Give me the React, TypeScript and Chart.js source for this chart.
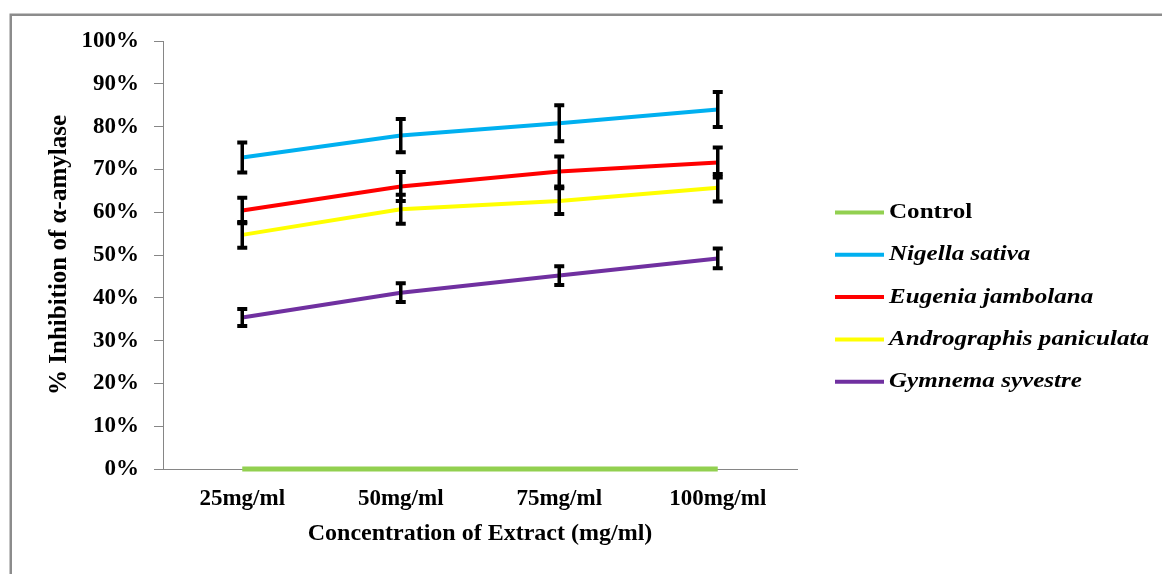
import { useEffect, useRef } from 'react';
import { Chart, registerables } from 'chart.js';

Chart.register(...registerables);

const categories = ['25mg/ml', '50mg/ml', '75mg/ml', '100mg/ml'];
const yTickValues = [0, 10, 20, 30, 40, 50, 60, 70, 80, 90, 100];

const seriesNames = ['Control', 'Nigella sativa', 'Eugenia jambolana', 'Andrographis paniculata', 'Gymnema syvestre'];
const seriesColors = ['#92D050', '#00B0F0', '#FF0000', '#FFFF00', '#7030A0'];
const seriesWidths = [5, 4, 4, 4, 4];

const control = [0, 0, 0, 0];
const nigella = [72.8, 77.9, 80.8, 84.0];
const nigellaErr = [3.5, 3.9, 4.2, 4.1];
const eugenia = [60.4, 66.0, 69.5, 71.6];
const eugeniaErr = [3.0, 3.4, 3.5, 3.5];
const andrographis = [54.7, 60.7, 62.6, 65.7];
const andrographisErr = [3.0, 3.4, 3.0, 3.2];
const gymnema = [35.4, 41.2, 45.2, 49.2];
const gymnemaErr = [2.0, 2.2, 2.2, 2.3];

const seriesValues = [control, nigella, eugenia, andrographis, gymnema];
const seriesErrors = [null, nigellaErr, eugeniaErr, andrographisErr, gymnemaErr];

const FONT = "'Liberation Serif', 'Times New Roman', serif";
const AXIS_GRAY = '#868686';

const framePlugin = {
  id: 'frame',
  beforeDraw(chart: any) {
    const ctx = chart.ctx;
    ctx.save();
    ctx.fillStyle = '#ffffff';
    ctx.fillRect(0, 0, chart.width, chart.height);
    ctx.strokeStyle = '#8c8c8c';
    ctx.lineWidth = 2.5;
    ctx.beginPath();
    ctx.moveTo(10.75, chart.height + 5);
    ctx.lineTo(10.75, 14.75);
    ctx.lineTo(chart.width + 5, 14.75);
    ctx.stroke();
    ctx.restore();
  },
};

const errorBarPlugin = {
  id: 'errorBars',
  afterDatasetsDraw(chart: any) {
    const ctx = chart.ctx;
    const xs = chart.scales.x;
    const ys = chart.scales.y;
    ctx.save();
    ctx.strokeStyle = '#000000';
    chart.data.datasets.forEach((ds: any) => {
      const errs = ds.errors;
      if (!errs) return;
      ds.data.forEach((v: number, i: number) => {
        const x = xs.getPixelForValue(i);
        const yTop = ys.getPixelForValue(v + errs[i]);
        const yBot = ys.getPixelForValue(v - errs[i]);
        ctx.lineWidth = 3.5;
        ctx.beginPath();
        ctx.moveTo(x, yTop);
        ctx.lineTo(x, yBot);
        ctx.stroke();
        ctx.lineWidth = 4;
        ctx.beginPath();
        ctx.moveTo(x - 5, yTop);
        ctx.lineTo(x + 5, yTop);
        ctx.moveTo(x - 5, yBot);
        ctx.lineTo(x + 5, yBot);
        ctx.stroke();
      });
    });
    ctx.restore();
  },
};

const legendPlugin = {
  id: 'sideLegend',
  afterDraw(chart: any) {
    const ctx = chart.ctx;
    ctx.save();
    chart.data.datasets.forEach((ds: any, i: number) => {
      const y = 212.5 + i * 42.3;
      ctx.strokeStyle = ds.borderColor;
      ctx.lineWidth = 4;
      ctx.beginPath();
      ctx.moveTo(835, y);
      ctx.lineTo(884, y);
      ctx.stroke();
      ctx.fillStyle = '#000000';
      ctx.textBaseline = 'middle';
      ctx.textAlign = 'left';
      ctx.font = (i === 0 ? 'bold ' : 'italic bold ') + '22px ' + FONT;
      ctx.save();
      ctx.translate(889, y);
      ctx.scale(1.14, 1);
      ctx.fillText(ds.label, 0, 0);
      ctx.restore();
    });
    ctx.restore();
  },
};

export default function App() {
  const ref = useRef<HTMLCanvasElement>(null);
  useEffect(() => {
    document.body.style.margin = '0';
    const canvas = ref.current;
    if (!canvas) return;
    const chart = new Chart(canvas, {
      type: 'line',
      data: {
        labels: categories,
        datasets: seriesValues.map((vals, i) => ({
          label: seriesNames[i],
          data: vals,
          errors: seriesErrors[i],
          borderColor: seriesColors[i],
          backgroundColor: seriesColors[i],
          borderWidth: seriesWidths[i],
          pointRadius: 0,
          pointHoverRadius: 0,
          tension: 0,
          fill: false,
          clip: false,
        })) as any,
      },
      options: {
        animation: false,
        responsive: false,
        devicePixelRatio: 1,
        events: [],
        layout: { padding: { left: 0, top: 41, right: 365, bottom: 0 } },
        plugins: {
          legend: { display: false },
          tooltip: { enabled: false },
        },
        scales: {
          x: {
            type: 'category',
            offset: true,
            afterFit: (scale: any) => {
              scale.height = 105;
            },
            grid: { display: true, drawOnChartArea: false, drawTicks: false, color: 'rgba(0,0,0,0)', offset: true },
            border: { display: true, color: AXIS_GRAY, width: 1 },
            ticks: {
              color: '#000000',
              padding: 16,
              font: { family: FONT, size: 23, weight: 'bold' },
              maxRotation: 0,
            },
            title: {
              display: true,
              text: 'Concentration of Extract (mg/ml)',
              color: '#000000',
              font: { family: FONT, size: 24, weight: 'bold' },
              padding: { top: 0, bottom: 26 },
            },
          },
          y: {
            type: 'linear',
            min: 0,
            max: 100,
            afterFit: (scale: any) => {
              scale.width = 163;
            },
            afterBuildTicks: (scale: any) => {
              scale.ticks = yTickValues.map((v) => ({ value: v }));
            },
            grid: { display: true, drawOnChartArea: false, drawTicks: true, tickLength: 9, color: AXIS_GRAY },
            border: { display: true, color: AXIS_GRAY, width: 1 },
            ticks: {
              color: '#000000',
              padding: 15,
              font: { family: FONT, size: 23, weight: 'bold' },
              callback: (v: any) => v + '%',
            },
            title: {
              display: true,
              text: '% Inhibition of α-amylase',
              color: '#000000',
              font: { family: FONT, size: 25, weight: 'bold' },
              padding: { top: 45, bottom: 0 },
            },
          },
        },
      },
      plugins: [framePlugin, errorBarPlugin, legendPlugin],
    } as any);
    return () => chart.destroy();
  }, []);
  return (
    <div style={{ width: 1162, height: 574 }}>
      <canvas ref={ref} width={1162} height={574} style={{ display: 'block' }} />
    </div>
  );
}
